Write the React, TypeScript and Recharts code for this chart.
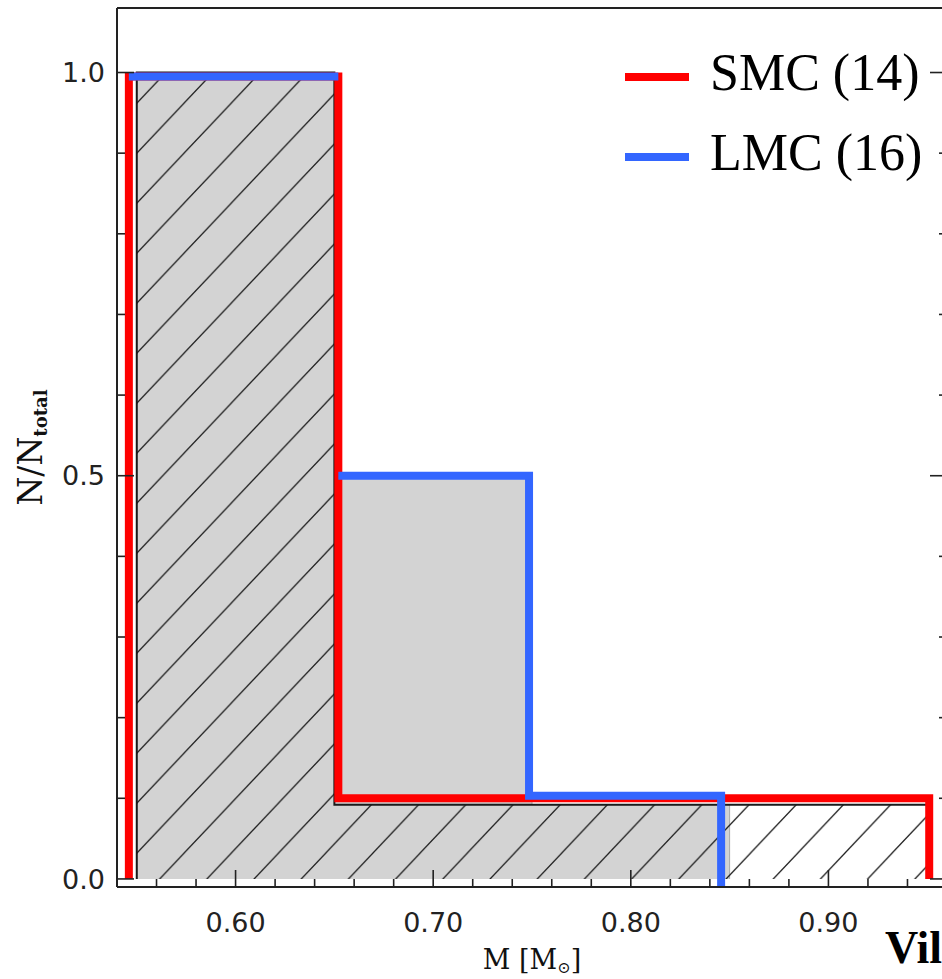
import React from 'react';
import { ComposedChart, Area, Line, XAxis, YAxis, Legend, Label, Customized } from 'recharts';

// hatched histogram (black outline): bin edges in M and heights in N/Ntotal
const hatchEdges = [0.55, 0.65, 0.75, 0.85, 0.95];
const hatchHeights = [1.0, 0.092, 0.092, 0.092];

// grey filled histogram
const greyEdges = [0.55, 0.65, 0.75, 0.85];
const greyHeights = [1.0, 0.5, 0.092];

// SMC (red) outline
const smcName = 'SMC (14)';
const smcEdges = [0.546, 0.652, 0.951];
const smcHeights = [0.995, 0.1];

// LMC (blue) outline, top bin drawn separately (no vertical at 0.652)
const lmcName = 'LMC (16)';
const lmcTopEdges = [0.546, 0.652];
const lmcTopHeights = [0.995];
const lmcEdges = [0.652, 0.7485, 0.8457];
const lmcHeights = [0.5, 0.103];

const legendOrder = [smcName, lmcName];

const xTicks = [0.56, 0.58, 0.6, 0.62, 0.64, 0.66, 0.68, 0.7, 0.72, 0.74, 0.76, 0.78, 0.8, 0.82, 0.84, 0.86, 0.88, 0.9, 0.92, 0.94];
const xMajor = [0.6, 0.7, 0.8, 0.9];
const yTicks = [0, 0.1, 0.2, 0.3, 0.4, 0.5, 0.6, 0.7, 0.8, 0.9, 1.0];
const yMajor = [0, 0.5, 1.0];

const X_DOMAIN = [0.54, 0.96];
const Y_DOMAIN = [-0.01, 1.08];

type Pt = { m: number; f: number | null };

// step outline points for a stepAfter curve
const toSteps = (edges: number[], heights: number[], left: number | null, right: number | null): Pt[] => {
  const pts: Pt[] = [];
  if (left !== null) pts.push({ m: edges[0], f: left });
  heights.forEach((h, i) => pts.push({ m: edges[i], f: h }));
  pts.push({ m: edges[edges.length - 1], f: right !== null ? right : heights[heights.length - 1] });
  return pts;
};

const hatchData = toSteps(hatchEdges, hatchHeights, 0, 0);
const greyData = toSteps(greyEdges, greyHeights, 0, 0);
const smcData = toSteps(smcEdges, smcHeights, 0, 0);
const lmcData = [
  ...toSteps(lmcTopEdges, lmcTopHeights, null, null),
  { m: lmcEdges[0], f: null },
  ...toSteps(lmcEdges, lmcHeights, null, Y_DOMAIN[0]),
];

const AXIS = '#222';
const isMajor = (list: number[], v: number) => list.some(t => Math.abs(t - v) < 1e-9);

const BottomTick = (props: any) => {
  const { x, y, payload } = props;
  const major = isMajor(xMajor, payload.value);
  return (
    <g>
      <line x1={x} y1={y} x2={x} y2={y - (major ? 17 : 8)} stroke={AXIS} strokeWidth={1.6} />
      {major && (
        <text x={x} y={y + 45} textAnchor="middle" fontFamily="DejaVu Sans" fontSize={27} fill={AXIS}>
          {payload.value.toFixed(2)}
        </text>
      )}
    </g>
  );
};

const TopTick = (props: any) => {
  const { x, y, payload } = props;
  const major = isMajor(xMajor, payload.value);
  return <line x1={x} y1={y} x2={x} y2={y + (major ? 18 : 8)} stroke={AXIS} strokeWidth={1.6} />;
};

const LeftTick = (props: any) => {
  const { x, y, payload } = props;
  const major = isMajor(yMajor, payload.value);
  return (
    <g>
      <line x1={x} y1={y} x2={x + (major ? 17 : 8)} y2={y} stroke={AXIS} strokeWidth={1.6} />
      {major && (
        <text x={x - 12} y={y} dy="0.36em" textAnchor="end" fontFamily="DejaVu Sans" fontSize={27} fill={AXIS}>
          {payload.value.toFixed(1)}
        </text>
      )}
    </g>
  );
};

const RightTick = (props: any) => {
  const { x, y, payload } = props;
  const major = isMajor(yMajor, payload.value);
  return <line x1={x} y1={y} x2={x - (major ? 17 : 8)} y2={y} stroke={AXIS} strokeWidth={1.6} />;
};

const XTitle = (props: any) => {
  const vb = props.viewBox;
  return (
    <text x={vb.x + vb.width / 2} y={vb.y + 82} textAnchor="middle" fontFamily="DejaVu Serif" fontSize={27} fill="#111">
      M [M<tspan fontSize={16} dy={4}>⊙</tspan>
      <tspan dy={-4}>]</tspan>
    </text>
  );
};

const YTitle = (props: any) => {
  const vb = props.viewBox;
  const cx = 42;
  const cy = vb.y + vb.height / 2;
  return (
    <text x={cx} y={cy} transform={`rotate(-90, ${cx}, ${cy})`} textAnchor="middle" fontFamily="DejaVu Serif" fontSize={33} fill="#111">
      N/N<tspan fontSize={18} fontWeight="bold" dy={5}>total</tspan>
    </text>
  );
};

const renderLegend = (props: any) => {
  const items = legendOrder
    .map(name => (props.payload || []).find((p: any) => p.value === name))
    .filter(Boolean);
  return (
    <svg width={330} height={200} style={{ display: 'block' }}>
      {items.map((p: any, i: number) => (
        <g key={p.value}>
          <line x1={5} x2={69} y1={77 + i * 80} y2={77 + i * 80} stroke={p.color} strokeWidth={8} />
          <text x={90} y={90 + i * 80} fontFamily="Liberation Serif, Times New Roman, serif" fontSize={52} fill="#000">
            {p.value}
          </text>
        </g>
      ))}
    </svg>
  );
};

export default function App() {
  return (
    <div style={{ position: 'absolute', left: 0, top: 0, width: 942, height: 979, overflow: 'hidden', background: '#fff' }}>
      <ComposedChart width={952} height={979} margin={{ top: 0, right: 0, bottom: 0, left: 0 }}>
        <defs>
          <pattern id="hatch" patternUnits="userSpaceOnUse" x={137} y={103} width={47.2} height={50}>
            <line x1={-47.2} y1={50} x2={47.2} y2={-50} stroke="#222" strokeWidth={1.3} />
            <line x1={-47.2} y1={100} x2={94.4} y2={-50} stroke="#222" strokeWidth={1.3} />
            <line x1={0} y1={100} x2={94.4} y2={0} stroke="#222" strokeWidth={1.3} />
          </pattern>
        </defs>

        <XAxis
          xAxisId="b"
          dataKey="m"
          type="number"
          orientation="bottom"
          domain={X_DOMAIN}
          allowDataOverflow
          ticks={xTicks}
          interval={0}
          tickSize={0}
          tickMargin={0}
          tickLine={false}
          tick={BottomTick}
          axisLine={{ stroke: AXIS, strokeWidth: 2 }}
          height={92}
        >
          <Label content={XTitle} />
        </XAxis>
        <XAxis
          xAxisId="t"
          type="number"
          orientation="top"
          domain={X_DOMAIN}
          allowDataOverflow
          ticks={xTicks}
          interval={0}
          tickSize={0}
          tickMargin={0}
          tickLine={false}
          tick={TopTick}
          axisLine={{ stroke: AXIS, strokeWidth: 2 }}
          height={8}
        />
        <YAxis
          yAxisId="l"
          type="number"
          orientation="left"
          domain={Y_DOMAIN}
          allowDataOverflow
          ticks={yTicks}
          interval={0}
          tickSize={0}
          tickMargin={0}
          tickLine={false}
          tick={LeftTick}
          axisLine={{ stroke: AXIS, strokeWidth: 2 }}
          width={117}
        >
          <Label content={YTitle} />
        </YAxis>
        <YAxis
          yAxisId="r"
          type="number"
          orientation="right"
          domain={Y_DOMAIN}
          allowDataOverflow
          ticks={yTicks}
          interval={0}
          tickSize={0}
          tickMargin={0}
          tickLine={false}
          tick={RightTick}
          axisLine={{ stroke: AXIS, strokeWidth: 2 }}
          width={5}
        />

        <Area
          data={greyData}
          xAxisId="b"
          yAxisId="l"
          dataKey="f"
          type="stepAfter"
          fill="#d3d3d3"
          fillOpacity={1}
          stroke="#a9a9a9"
          strokeWidth={1}
          dot={false}
          activeDot={false}
          legendType="none"
          isAnimationActive={false}
        />
        <Area
          data={hatchData}
          xAxisId="b"
          yAxisId="l"
          dataKey="f"
          type="stepAfter"
          fill="url(#hatch)"
          fillOpacity={1}
          stroke="#1a1a1a"
          strokeWidth={2}
          dot={false}
          activeDot={false}
          legendType="none"
          isAnimationActive={false}
        />
        <Line
          data={smcData}
          name={smcName}
          xAxisId="b"
          yAxisId="l"
          dataKey="f"
          type="stepAfter"
          stroke="#ff0000"
          strokeWidth={8}
          dot={false}
          activeDot={false}
          isAnimationActive={false}
        />
        <Line
          data={lmcData}
          name={lmcName}
          xAxisId="b"
          yAxisId="l"
          dataKey="f"
          type="stepAfter"
          stroke="#3366ff"
          strokeWidth={8}
          dot={false}
          activeDot={false}
          isAnimationActive={false}
        />

        <Legend
          layout="vertical"
          align="center"
          verticalAlign="middle"
          content={renderLegend}
          wrapperStyle={{ left: 620, top: 0, width: 330, height: 200 }}
        />
        <Customized
          component={() => (
            <text x={885} y={963} fontFamily="Liberation Serif, Times New Roman, serif" fontWeight="bold" fontSize={46} fill="#000">
              Vil
            </text>
          )}
        />
      </ComposedChart>
    </div>
  );
}
